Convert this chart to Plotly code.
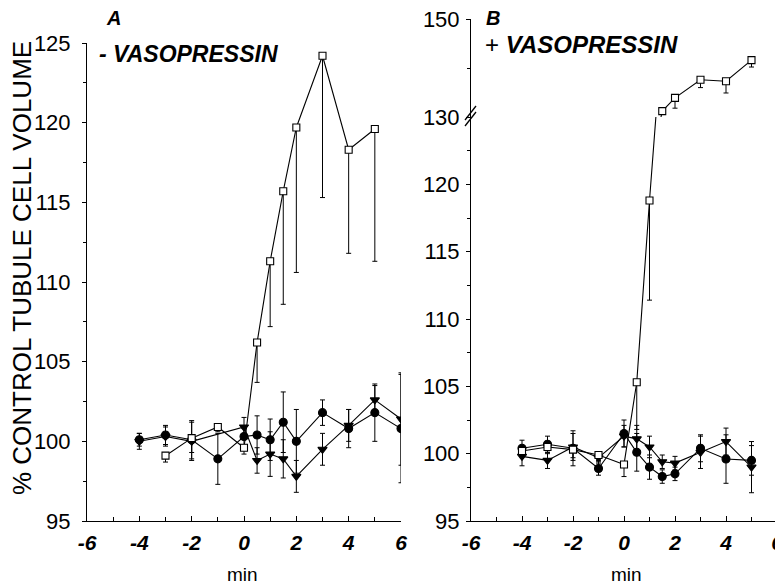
import plotly.graph_objects as go

# page body has an 8px margin, so the figure is 8px smaller and all pixel
# positions below are given in window coordinates and shifted by 8px
OFF = 8
W, H = 783 - OFF, 586 - OFF

# ---------------- Panel A (- vasopressin) ----------------
a_sq_t = [-3, -2, -1, 0, 0.5, 1, 1.5, 2, 3, 4, 5]
a_sq_v = [99.1, 100.2, 100.9, 99.6, 106.2, 111.3, 115.7, 119.7, 124.2, 118.3, 119.6]
a_sq_em = [0.4, 0.9, 0.3, 0.4, 2.5, 4.1, 7.1, 9.1, 8.9, 6.5, 8.3]

a_ci_t = [-4, -3, -2, -1, 0, 0.5, 1, 1.5, 2, 3, 4, 5, 6]
a_ci_v = [100.1, 100.4, 100.1, 98.9, 100.3, 100.4, 100.1, 101.2, 100.0, 101.8, 100.8, 101.8, 100.8]
a_ci_e = [0.4, 0.6, 1.2, 1.6, 0.5, 1.2, 1.3, 1.9, 2.0, 0.8, 1.2, 1.8, 3.4]

a_tr_t = [-4, -3, -2, 0, 0.5, 1, 1.5, 2, 3, 4, 5, 6]
a_tr_v = [100.0, 100.3, 100.0, 100.9, 98.8, 99.2, 98.9, 97.8, 99.5, 101.0, 102.6, 101.4]
a_tr_e = [0.5, 0.6, 1.2, 0.6, 0.8, 1.4, 1.2, 1.0, 1.0, 1.0, 0.9, 2.9]

# ---------------- Panel B (+ vasopressin) ----------------
b_sq_t = [-4, -3, -2, -1, 0, 0.5, 1, 1.5, 2, 3, 4, 5]
b_sq_v = [100.2, 100.5, 100.3, 99.9, 99.2, 105.3, 118.8, 131.2, 133.9, 137.6, 137.3, 141.6]
b_sq_em = [0.4, 0.5, 0.6, 0.4, 0.9, 3.5, 7.4, 0.0, 2.1, 1.6, 2.4, 1.4]

b_ci_t = [-4, -3, -2, -1, 0, 0.5, 1, 1.5, 2, 3, 4, 5]
b_ci_v = [100.4, 100.7, 100.4, 98.9, 101.5, 100.1, 99.0, 98.3, 98.5, 100.4, 99.6, 99.5]
b_ci_e = [0.6, 0.6, 1.3, 0.5, 1.0, 1.4, 0.9, 0.5, 0.5, 1.0, 1.8, 1.1]

b_tr_t = [-4, -3, -2, -1, 0, 0.5, 1, 1.5, 2, 3, 4, 5]
b_tr_v = [99.8, 99.5, 100.5, 99.7, 101.3, 101.1, 100.5, 99.4, 99.3, 100.1, 100.9, 99.0]
b_tr_e = [0.7, 0.6, 1.0, 0.4, 0.8, 1.0, 0.8, 0.5, 0.5, 1.2, 1.0, 1.9]

x_ticks = [-6, -4, -2, 0, 2, 4, 6]
a_y_ticks = [95, 100, 105, 110, 115, 120, 125]
b_y_ticks_low = [95, 100, 105, 110, 115, 120]
b_y_ticks_up = [130, 150]


def px(x):
    return (x - OFF) / W


def py(y):
    return 1 - (y - OFF) / H


FONT = "Liberation Sans, Arial, sans-serif"
LINE = dict(color="black", width=1.1)

fig = go.Figure()


def add_series(t, v, xa, ya, symbol, size, fill, em, ep=None):
    if ep is None:
        ep = em
    fig.add_trace(go.Scatter(
        x=t, y=v, xaxis=xa, yaxis=ya, mode="lines+markers",
        line=LINE,
        marker=dict(symbol=symbol, size=size, color=fill,
                    line=dict(color="black", width=1.1)),
        error_y=dict(type="data", symmetric=False, array=ep, arrayminus=em,
                     color="black", thickness=1, width=2.5),
        showlegend=False, hoverinfo="skip"))


# Panel A
add_series(a_tr_t, a_tr_v, "x", "y", "triangle-down", 8, "black", a_tr_e)
add_series(a_ci_t, a_ci_v, "x", "y", "circle", 8, "black", a_ci_e)
add_series(a_sq_t, a_sq_v, "x", "y", "square", 7, "white", a_sq_em, [0] * len(a_sq_t))

# Panel B lower and upper (broken axis) segments
for ya in ("y2", "y3"):
    add_series(b_tr_t, b_tr_v, "x2", ya, "triangle-down", 8, "black", b_tr_e)
    add_series(b_ci_t, b_ci_v, "x2", ya, "circle", 8, "black", b_ci_e)
    add_series(b_sq_t, b_sq_v, "x2", ya, "square", 7, "white", b_sq_em, [0] * len(b_sq_t))

xaxis_common = dict(
    range=[-6, 6], tickvals=x_ticks, ticktext=[str(v) for v in x_ticks],
    ticks="inside", ticklen=5, tickcolor="black",
    minor=dict(dtick=1, tick0=0, ticks="inside", ticklen=4, tickcolor="black"),
    showline=True, linecolor="black", linewidth=1, showgrid=False, zeroline=False,
    tickfont=dict(family=FONT, size=21, color="black", weight="bold", style="italic"),
    ticklabelstandoff=3, ticklabeloverflow="allow",
    automargin=False, fixedrange=True)

yaxis_common = dict(
    ticks="outside", ticklen=4, tickcolor="black",
    showline=True, linecolor="black", linewidth=1, showgrid=False, zeroline=False,
    tickfont=dict(family=FONT, size=22, color="black"),
    ticklabeloverflow="allow",
    automargin=False, fixedrange=True)

fig.update_layout(
    width=W, height=H,
    margin=dict(l=0, r=0, t=0, b=0),
    paper_bgcolor="white", plot_bgcolor="white",
    xaxis=dict(domain=[px(87), px(401)], anchor="y", **xaxis_common),
    xaxis2=dict(domain=[px(471), px(777)], anchor="y2", **xaxis_common),
    yaxis=dict(domain=[py(521), py(43)], anchor="x", range=[95, 125],
               tickvals=a_y_ticks, ticklabelstandoff=7,
               minor=dict(dtick=2.5, tick0=95, ticks="outside", ticklen=3, tickcolor="black"),
               **yaxis_common),
    yaxis2=dict(domain=[py(521), py(117)], anchor="x2", range=[95, 125],
                tickvals=b_y_ticks_low, ticklabelstandoff=2,
                minor=dict(dtick=2.5, tick0=95, ticks="outside", ticklen=3, tickcolor="black"),
                **yaxis_common),
    yaxis3=dict(domain=[py(117), py(19)], anchor="x2", range=[130, 150],
                tickvals=b_y_ticks_up, ticklabelstandoff=2,
                minor=dict(dtick=10, tick0=130, ticks="outside", ticklen=3, tickcolor="black"),
                **yaxis_common),
)

# axis break marks on panel B
for dy in (0, 6):
    fig.add_shape(type="line", xref="paper", yref="paper",
                  x0=px(465), y0=py(126 - dy), x1=px(476), y1=py(112 - dy),
                  line=dict(color="black", width=1.3))

annots = [
    dict(x=px(22), y=py(268), text="% CONTROL TUBULE CELL VOLUME", textangle=-90,
         font=dict(family=FONT, size=26, color="black")),
    dict(x=px(242), y=py(574), text="min", font=dict(family=FONT, size=19, color="black")),
    dict(x=px(626), y=py(574), text="min", font=dict(family=FONT, size=19, color="black")),
    dict(x=px(113), y=py(18), text="<b><i>A</i></b>", font=dict(family=FONT, size=20, color="black")),
    dict(x=px(493), y=py(18), text="<b><i>B</i></b>", font=dict(family=FONT, size=20, color="black")),
    dict(x=px(97), y=py(54), text="<b><i>- VASOPRESSIN</i></b>", xanchor="left",
         font=dict(family=FONT, size=23, color="black")),
    dict(x=px(483), y=py(45), text="+ <b><i>VASOPRESSIN</i></b>", xanchor="left",
         font=dict(family=FONT, size=24, color="black")),
]
for a in annots:
    a.setdefault("xanchor", "center")
    fig.add_annotation(xref="paper", yref="paper", showarrow=False, yanchor="middle", **a)

fig.write_html("out.html")
